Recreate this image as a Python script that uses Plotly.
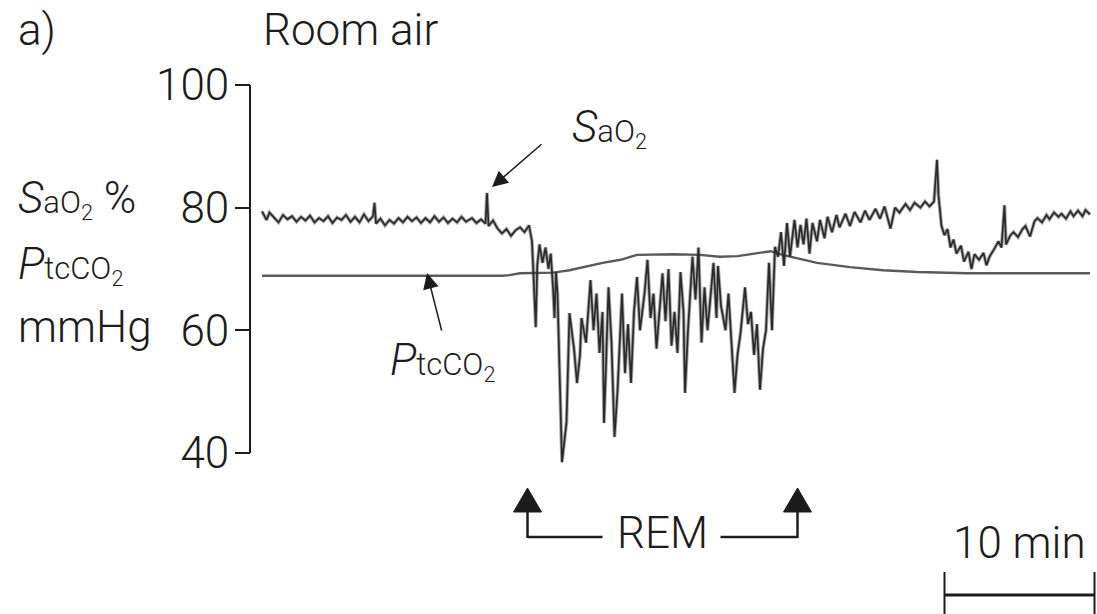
import plotly.graph_objects as go

W, H = 1097, 614

# ---- Transcutaneous CO2 (mmHg) vs time (min) ----
ptc_t = [0, 4, 8, 12, 16, 16.5, 17.2, 19.4, 20.5, 22.7,
         23.9, 25.0, 27.5, 29.2, 30.5, 31.7, 33.2, 33.9, 34.7, 37.0,
         39.2, 41.4, 43.7, 47, 51, 55.2]
ptc_v = [68.9, 68.9, 68.8, 68.9, 68.9, 69.0, 69.3, 69.4, 69.8, 71.0,
         71.5, 72.3, 72.4, 72.3, 72.0, 72.1, 72.6, 72.9, 72.3, 71.0,
         70.3, 69.8, 69.5, 69.3, 69.3, 69.3]

# ---- Oxygen saturation (%) vs time (min) ----
# quiet sleep before REM
pre_t = [0.0, 0.3, 0.5, 0.8, 1.1, 1.4, 1.7, 2.0, 2.3, 2.6,
         2.9, 3.2, 3.5, 3.8, 4.1, 4.4, 4.7, 5.0, 5.3, 5.6,
         5.9, 6.2, 6.5, 6.8, 7.1, 7.4, 7.5, 7.6, 7.9, 8.2,
         8.5, 8.8, 9.1, 9.4, 9.7, 10.0, 10.3, 10.6, 10.9, 11.2,
         11.5, 11.8, 12.1, 12.4, 12.7, 13.0, 13.3, 13.6, 14.0, 14.3,
         14.6, 14.9, 15.0, 15.1, 15.4, 15.7, 16.0, 16.3, 16.6, 16.9,
         17.2, 17.5, 17.8]
pre_v = [79.4, 78.0, 79.2, 78.4, 77.6, 78.8, 78.1, 78.6, 77.7, 78.5,
         77.9, 78.7, 77.6, 78.3, 77.8, 78.6, 77.5, 78.4, 78.0, 78.8,
         77.7, 78.5, 77.6, 78.9, 77.8, 78.6, 80.8, 77.4, 78.2, 77.1,
         78.0, 77.4, 78.3, 77.6, 78.5, 77.8, 78.4, 77.5, 78.3, 77.6,
         78.6, 77.7, 78.4, 77.5, 78.2, 77.6, 78.5, 77.7, 78.3, 77.5,
         78.1, 77.4, 82.4, 77.0, 77.9, 76.6, 75.8, 76.5, 75.4, 76.3,
         76.8, 76.0, 77.1]
# REM onset
onset_t = [18.0, 18.15, 18.25, 18.35, 18.5, 18.7, 18.9, 19.1, 19.25, 19.4,
           19.5, 19.6]
onset_v = [74.5, 67.0, 60.5, 70.5, 74.0, 71.0, 73.5, 70.0, 72.5, 67.0,
           62.0, 69.5]
# REM desaturations
rem_t = [19.7, 20.0, 20.3, 20.5, 20.8, 21.0, 21.2, 21.3, 21.6, 21.9,
         22.1, 22.3, 22.5, 22.7, 22.8, 22.9, 23.1, 23.3, 23.5, 23.7,
         24.0, 24.2, 24.4, 24.6, 24.8, 25.0, 25.2, 25.5, 25.7, 25.9,
         26.1, 26.3, 26.5, 26.7, 26.9, 27.1, 27.3, 27.5, 27.7, 27.9,
         28.1, 28.2, 28.4, 28.7, 28.9, 29.1, 29.3, 29.5, 29.7, 29.9,
         30.1, 30.3, 30.4, 30.6, 30.9, 31.1, 31.3, 31.5, 31.7, 31.9,
         32.2, 32.4, 32.6, 32.8, 33.0, 33.2, 33.4, 33.6, 33.8, 34.0,
         34.2]
rem_v = [66.0, 38.5, 45.0, 62.8, 57.0, 51.4, 56.0, 62.0, 58.0, 68.2,
         60.0, 66.0, 56.3, 63.0, 44.9, 52.0, 67.0, 58.0, 42.6, 50.0,
         66.0, 53.0, 61.0, 51.4, 63.0, 68.7, 60.0, 66.0, 71.5, 62.0,
         66.0, 57.0, 63.0, 69.3, 61.5, 70.0, 57.5, 63.0, 56.3, 69.5,
         63.0, 49.8, 60.0, 72.0, 65.0, 73.5, 58.0, 67.0, 60.0, 65.0,
         71.0, 62.0, 70.5, 64.0, 60.0, 66.0, 58.0, 49.8, 56.0, 59.5,
         67.0, 61.0, 63.0, 56.0, 61.0, 50.3, 57.0, 60.0, 71.0, 60.0,
         73.6]
# after REM
post_t = [34.4, 34.6, 34.8, 35.0, 35.2, 35.5, 35.7, 35.9, 36.1, 36.3,
          36.5, 36.7, 37.0, 37.2, 37.5, 37.7, 38.0, 38.3, 38.5, 38.9,
          39.2, 39.5, 39.9, 40.2, 40.5, 40.9, 41.2, 41.5, 41.9, 42.2,
          42.5, 42.9, 43.2, 43.5, 43.9, 44.2, 44.5, 44.8, 45.0, 45.1,
          45.3, 45.5, 45.7, 45.9, 46.1, 46.3, 46.6, 46.8, 47.1, 47.3,
          47.5, 47.8, 48.1, 48.3, 48.5, 48.8, 49.1, 49.3, 49.5, 49.6,
          49.9, 50.1, 50.4, 50.7, 50.9, 51.2, 51.5, 51.7, 52.0, 52.3,
          52.5, 52.8, 53.1, 53.3, 53.6, 53.9, 54.1, 54.4, 54.7, 54.9,
          55.2]
post_v = [72.0, 76.0, 70.5, 77.5, 72.0, 78.0, 73.5, 77.2, 74.0, 78.2,
          72.5, 77.5, 74.5, 78.0, 75.0, 78.5, 76.0, 78.8, 76.8, 79.0,
          77.0, 79.3, 77.6, 79.5, 78.0, 79.8, 78.2, 80.2, 76.6, 80.0,
          79.2, 80.6, 79.6, 80.8, 80.0, 81.0, 80.2, 81.0, 87.8, 82.0,
          77.0, 75.5, 76.5, 73.5, 74.8, 72.5, 73.8, 71.2, 72.8, 70.0,
          72.4, 71.5, 72.6, 70.6, 72.0, 73.2, 74.5, 73.5, 80.4, 74.0,
          75.5, 76.0, 75.2, 76.5, 77.0, 75.3, 77.8, 78.3, 77.6, 78.8,
          78.1, 79.2, 78.5, 79.0, 78.2, 79.4, 78.6, 79.5, 78.6, 79.6,
          78.9]

y_ticks = [40, 60, 80, 100]
REM_START, REM_END = 17.7, 35.7   # min
SCALE_START, SCALE_LEN = 45.5, 10  # min

sao2_t = pre_t + onset_t + rem_t + post_t
sao2_v = pre_v + onset_v + rem_v + post_v

INK = "#1c1c1c"
FONT = "Roboto"
WEIGHT = 300
PX_PER_MIN = 15.0
X0_PX = 262  # pixel column of t = 0


def pxx(p):
    return p / W


def pxy(p):
    return 1 - p / H


fig = go.Figure()
fig.add_trace(go.Scatter(x=ptc_t, y=ptc_v, mode="lines",
                         line=dict(color="#5a5a5a", width=2.4),
                         hoverinfo="skip"))
# recorder pen: a soft wide stroke under a darker core
fig.add_trace(go.Scatter(x=sao2_t, y=sao2_v, mode="lines",
                         line=dict(color="rgba(60,60,60,0.45)", width=3.6),
                         hoverinfo="skip"))
fig.add_trace(go.Scatter(x=sao2_t, y=sao2_v, mode="lines",
                         line=dict(color="#2a2a2a", width=1.7),
                         hoverinfo="skip"))

shapes = []
# y axis spine from 40 to 100
shapes.append(dict(type="line", xref="paper", yref="y",
                   x0=pxx(250), x1=pxx(250), y0=40, y1=100,
                   line=dict(color=INK, width=2)))

# REM markers
dx = 1 / PX_PER_MIN
tri_half = 14 * dx
for xs, hx0, hx1 in [(REM_START, REM_START, REM_START + 75 * dx),
                     (REM_END, REM_END - 77 * dx, REM_END)]:
    shapes.append(dict(type="line", xref="x", yref="paper",
                       x0=hx0, x1=hx1, y0=pxy(537), y1=pxy(537),
                       line=dict(color=INK, width=2.5)))
    shapes.append(dict(type="line", xref="x", yref="paper",
                       x0=xs, x1=xs, y0=pxy(538), y1=pxy(508),
                       line=dict(color=INK, width=2.5)))
    shapes.append(dict(type="path", xref="x", yref="paper",
                       path=f"M {xs - tri_half},{pxy(512)} L {xs},{pxy(488)} "
                            f"L {xs + tri_half},{pxy(512)} Z",
                       fillcolor=INK, line=dict(color=INK, width=1)))

# 10-minute scale bar
sx0, sx1 = SCALE_START, SCALE_START + SCALE_LEN
shapes.append(dict(type="line", xref="x", yref="paper",
                   x0=sx0, x1=sx1, y0=pxy(595), y1=pxy(595),
                   line=dict(color=INK, width=3)))
for sx in (sx0, sx1):
    shapes.append(dict(type="line", xref="x", yref="paper",
                       x0=sx, x1=sx, y0=pxy(572), y1=pxy(614),
                       line=dict(color=INK, width=2)))

SMALL = "font-size:31px"
sao2_lbl = f"<i>S</i><span style='{SMALL}'>aO<sub>2</sub></span>"
ptc_lbl = f"<i>P</i><span style='{SMALL}'>tcCO<sub>2</sub></span>"

ann = []


def text(s, x, y, xanchor="left", xref="paper"):
    ann.append(dict(text=s, x=x, y=y, xref=xref, yref="paper",
                    xanchor=xanchor, yanchor="middle", showarrow=False,
                    font=dict(family=FONT, size=44, color=INK, weight=WEIGHT)))


text("a)", pxx(16), pxy(30))
text("Room air", pxx(261), pxy(30))
text(sao2_lbl + " %", pxx(16), pxy(199))
text(ptc_lbl, pxx(16), pxy(264))
text("mmHg", pxx(16), pxy(327))
text(sao2_lbl, pxx(570), pxy(128))
text(ptc_lbl, pxx(388), pxy(360))
text("REM", (REM_START + REM_END) / 2, pxy(533), xanchor="center", xref="x")
text("10 min", SCALE_START + SCALE_LEN / 2, pxy(543), xanchor="center", xref="x")

# pointer arrows to the traces
for hx, hy, tx, ty in [(492, 187, 543, 143), (427, 273, 442, 332)]:
    ann.append(dict(text="", x=pxx(hx), y=pxy(hy), xref="paper", yref="paper",
                    ax=tx - hx, ay=ty - hy, showarrow=True,
                    arrowhead=2, arrowsize=2.1, arrowwidth=1.5,
                    arrowcolor=INK))

fig.update_layout(
    width=W, height=H,
    margin=dict(l=0, r=0, t=0, b=0),
    paper_bgcolor="white", plot_bgcolor="white",
    showlegend=False,
    font=dict(family=FONT, size=44, color=INK, weight=WEIGHT),
    xaxis=dict(range=[-X0_PX / PX_PER_MIN, (W - X0_PX) / PX_PER_MIN],
               visible=False, fixedrange=True),
    yaxis=dict(range=[13.74, 113.86], anchor="free", position=pxx(250),
               tickvals=y_ticks, ticks="outside", ticklen=15, tickwidth=2,
               tickcolor=INK, showline=False, showgrid=False, zeroline=False,
               tickfont=dict(family=FONT, size=44, color=INK, weight=WEIGHT),
               ticklabelstandoff=-3, fixedrange=True),
    shapes=shapes,
    annotations=ann,
)

fig.write_html("out.html")
